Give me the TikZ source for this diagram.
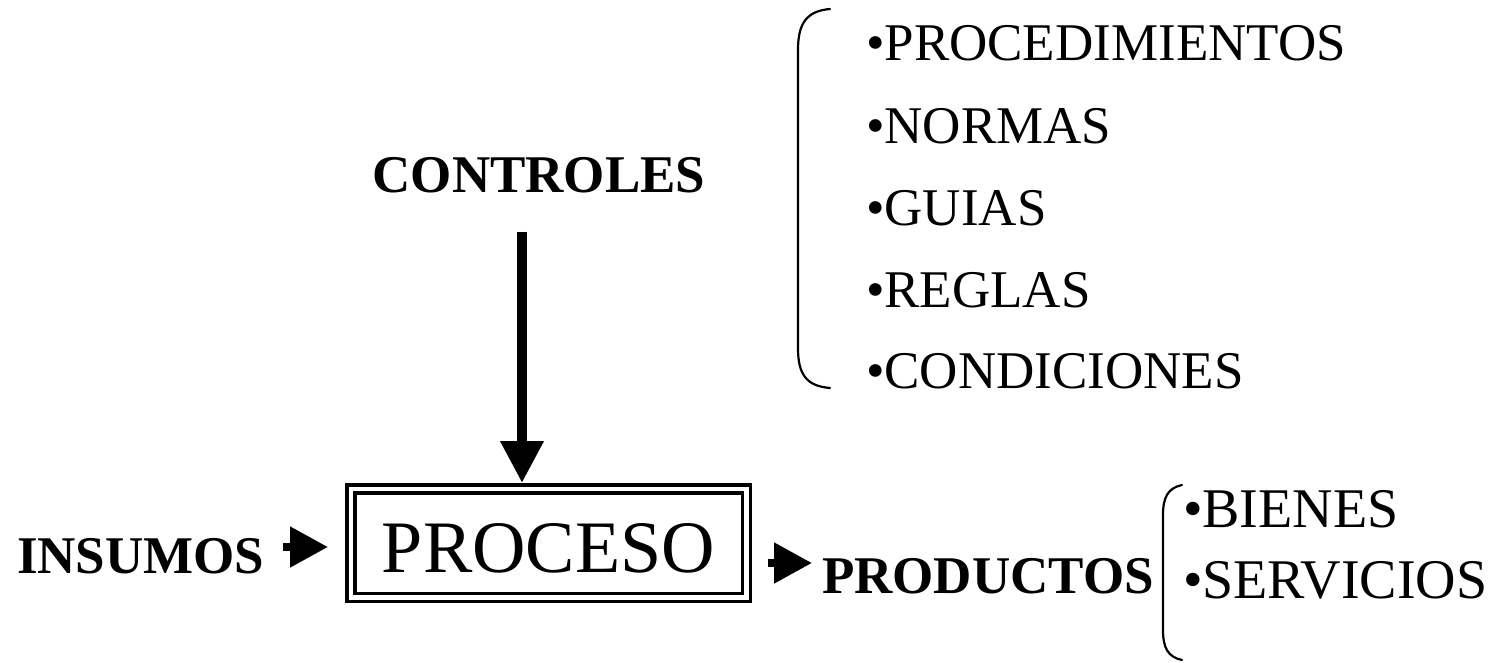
\documentclass[tikz,border=0pt]{standalone}
\usepackage{fontspec}
\setmainfont{Liberation Serif}
\usetikzlibrary{arrows.meta}
\begin{document}
\begin{tikzpicture}[x=1pt,y=-1pt,
  lbl/.style={inner sep=0pt, outer sep=0pt, font=\fontsize{53}{60}\selectfont\bfseries},
  item/.style={inner sep=0pt, outer sep=0pt, anchor=base west, font=\fontsize{53}{60}\selectfont},
  pitem/.style={item, font=\fontsize{56}{62}\selectfont},
  procbox/.style={draw, double, line width=3.5pt, double distance=4.5pt, outer sep=0pt,
    minimum width=395.5pt, minimum height=108.5pt, inner sep=0pt,
    text height=58pt, text depth=0pt, font=\fontsize{74}{80}\selectfont},
  fatarrow/.style={line width=8pt, -{Triangle[length=38pt,width=39pt]}},
  vertarrow/.style={line width=10pt, -{Triangle[length=42pt,width=41pt]}},
  bracket/.style={line width=2.2pt, line cap=round, line join=round}]
\useasboundingbox (0,0) rectangle (1502,662);
\fill[white] (0,0) rectangle (1502,662);

% main labels
\node[lbl, anchor=base] (controles) at (539,192) {CONTROLES};
\node[lbl, anchor=base west] (insumos) at (17,573) {INSUMOS};
\node[lbl, anchor=base west] (productos) at (822,593) {PRODUCTOS};
\node[procbox] (proceso) at (548.5,543) {PROCESO};

% arrows
\draw[vertarrow, shorten <=39pt, shorten >=5.75pt]
  (controles.south -| 522,0) -- (proceso.north -| 522,0);
\draw[fatarrow, shorten <=19pt, shorten >=22.75pt]
  (insumos.east |- 0,547) -- (proceso.west |- 0,547);
\draw[fatarrow, shorten <=21.75pt, shorten >=10pt]
  (proceso.east |- 0,563) -- (productos.west |- 0,563);

% control list
\node[item] (i1) at (866,60)  {•PROCEDIMIENTOS};
\node[item] (i2) at (866,143) {•NORMAS};
\node[item] (i3) at (866,225) {•GUIAS};
\node[item] (i4) at (866,307) {•REGLAS};
\node[item] (i5) at (866,388) {•CONDICIONES};
\draw[bracket] (830,9) .. controls (806,11) and (798,24) .. (798,50)
  -- (798,348) .. controls (798,374) and (806,386) .. (830,388);

% product list
\node[pitem] (p1) at (1183,527) {•BIENES};
\node[pitem] (p2) at (1183,598) {•SERVICIOS};
\draw[bracket] (1182,485) .. controls (1168,488) and (1163,497) .. (1163,515)
  -- (1163,630) .. controls (1163,648) and (1168,657) .. (1182,660);
\end{tikzpicture}
\end{document}
